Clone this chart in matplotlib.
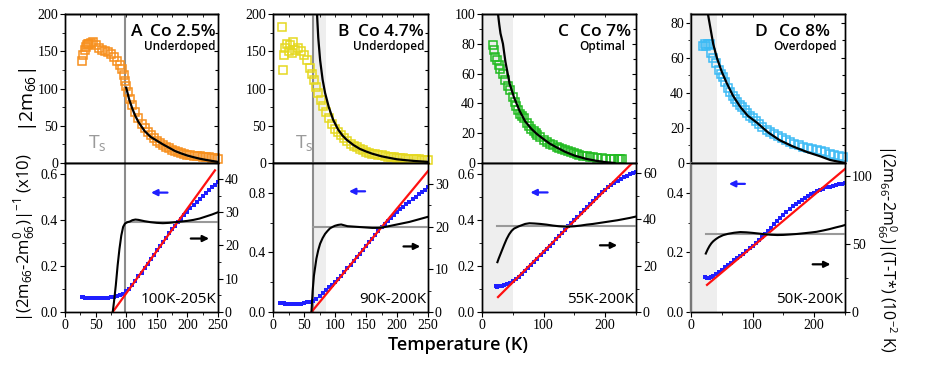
import matplotlib
matplotlib.use('Agg')
import matplotlib.pyplot as plt
from matplotlib.ticker import AutoMinorLocator, MultipleLocator

# ---------------- Panel A : Co 2.5% ----------------
a_T = [28, 30, 32, 34, 36, 38, 40, 43, 46, 50, 55, 60, 65, 70, 75, 80, 85, 90, 93, 96, 98, 100,
       103, 106, 110, 115, 120, 125, 130, 135, 140, 145, 150, 155, 160, 165, 170, 175, 180, 185,
       190, 195, 200, 205, 210, 215, 220, 225, 230, 235, 240, 245, 250]
a_m66 = [137, 145, 152, 156, 158, 160, 160, 161, 162, 158, 155, 152, 150, 149, 146, 142, 137,
         131, 126, 118, 110, 103, 95, 86, 78, 68, 60, 53, 47, 42, 37, 33, 30, 27, 24, 22, 20,
         18, 16, 14.5, 13, 12, 11, 10.5, 10, 9.5, 9, 8.5, 8, 7.5, 7, 6.5, 6]
a_fit_T = [100, 105, 110, 115, 120, 125, 130, 140, 150, 160, 170, 180, 190, 200, 210, 220, 230, 240, 250]
a_fit = [101, 85, 73, 63, 55, 49, 43, 35, 30, 25, 20.5, 16, 12.8, 10, 7.8, 5.8, 4.2, 2.8, 1.5]
a_inv_T = [28, 30, 33, 36, 40, 45, 50, 55, 60, 65, 70, 75, 80, 85, 90, 95, 100, 105, 110, 115,
           120, 125, 130, 135, 140, 145, 150, 155, 160, 165, 170, 175, 180, 185, 190, 195, 200,
           205, 210, 215, 220, 225, 230, 235, 240, 245, 250]
a_inv = [0.066, 0.064, 0.062, 0.061, 0.060, 0.060, 0.060, 0.061, 0.061, 0.062, 0.063, 0.064,
         0.066, 0.068, 0.073, 0.080, 0.090, 0.102, 0.117, 0.135, 0.155, 0.172, 0.190, 0.210,
         0.230, 0.250, 0.268, 0.287, 0.305, 0.324, 0.342, 0.360, 0.376, 0.392, 0.407, 0.422,
         0.437, 0.451, 0.466, 0.480, 0.494, 0.507, 0.519, 0.531, 0.543, 0.555, 0.566]
a_lin_T = [78, 245]
a_lin = [0.0, 0.617]
a_prod_T = [78, 80, 83, 86, 89, 92, 95, 98, 102, 106, 110, 115, 120, 125, 130, 140, 150, 160,
            170, 180, 190, 200, 210, 220, 230, 240, 250]
a_prod = [0, 3, 8, 14, 19, 23, 25.6, 26.6, 27, 27.2, 27.6, 27.8, 27.7, 27.5, 27.3, 27, 26.8,
          26.7, 26.8, 27, 27.2, 27.4, 27.7, 28.1, 28.7, 29.3, 30]
a_flat = 27.0

# ---------------- Panel B : Co 4.7% ----------------
b_T = [14, 16, 17, 20, 22, 25, 28, 30, 33, 36, 40, 45, 50, 55, 60, 63, 66, 70, 73, 77, 80, 85,
       90, 95, 100, 105, 110, 115, 120, 125, 130, 135, 140, 145, 150, 155, 160, 165, 170, 175,
       180, 185, 190, 195, 200, 205, 210, 215, 220, 225, 230, 235, 240, 245, 250]
b_m66 = [183, 125, 145, 155, 160, 150, 158, 148, 162, 152, 155, 150, 145, 138, 128, 120, 112,
         102, 94, 84, 77, 68, 60, 52, 46, 41, 37, 33, 29, 26, 23, 21, 19, 17, 15, 13.7, 12.5,
         11.7, 11, 10.2, 9.5, 8.7, 8, 7.5, 7, 6.7, 6.5, 6, 5.5, 5.2, 5, 4.7, 4.5, 4.2, 4]
b_fit_T = [71, 73, 76, 80, 84, 90, 97, 105, 112, 119, 130, 140, 150, 160, 175, 190, 200, 215, 230, 250]
b_fit = [200, 168, 138, 112, 94, 75, 58, 45, 37, 31, 24, 19, 15.5, 12.5, 9, 6.5, 5, 3.7, 2.6, 1.5]
b_inv_T = [12, 14, 17, 20, 25, 30, 35, 40, 45, 50, 55, 60, 65, 70, 75, 80, 85, 90, 95, 100,
           105, 110, 115, 120, 125, 130, 135, 140, 145, 150, 155, 160, 165, 170, 175, 180, 185,
           190, 195, 200, 205, 210, 215, 220, 225, 230, 235, 240, 245, 250]
b_inv = [0.062, 0.060, 0.058, 0.056, 0.054, 0.054, 0.054, 0.055, 0.057, 0.060, 0.064, 0.068,
         0.077, 0.090, 0.110, 0.130, 0.148, 0.165, 0.180, 0.198, 0.220, 0.243, 0.267, 0.292,
         0.317, 0.342, 0.367, 0.392, 0.418, 0.443, 0.468, 0.493, 0.518, 0.543, 0.568, 0.592,
         0.612, 0.632, 0.652, 0.670, 0.688, 0.705, 0.722, 0.740, 0.757, 0.773, 0.790, 0.806,
         0.822, 0.838]
b_lin_T = [62, 250]
b_lin = [0.0, 0.946]
b_prod_T = [62, 64, 66, 68, 70, 73, 76, 80, 84, 88, 92, 97, 100, 105, 110, 115, 120, 130, 140,
            150, 160, 170, 180, 190, 200, 210, 220, 230, 240, 250]
b_prod = [0, 5, 8.5, 10.5, 12.5, 14.5, 16, 17.3, 18.3, 19, 19.6, 20, 20.2, 20.4, 20.5, 20.3,
          20.1, 20, 19.9, 19.8, 19.7, 19.7, 19.9, 20.2, 20.5, 20.8, 21.1, 21.5, 21.9, 22.3]
b_flat = 20.0

# ---------------- Panel C : Co 7% ----------------
c_T = [18, 19, 21, 24, 27, 30, 34, 38, 42, 45, 50, 53, 56, 59, 62, 65, 68, 73, 77, 80, 84, 87,
       90, 94, 100, 105, 110, 115, 121, 125, 130, 135, 140, 145, 150, 154, 158, 164, 170, 175,
       180, 187, 195, 202, 210, 215, 220, 224, 228]
c_m66 = [79, 76, 71, 69, 66, 63, 60, 56, 52, 49, 44, 41, 38, 35.5, 33, 31.5, 30, 27, 25, 23,
         21.5, 20, 19, 17.7, 15.5, 14.2, 13, 12, 11, 10, 9.3, 8.5, 7.8, 7.1, 6.5, 6, 5.4, 5,
         4.5, 4.1, 3.8, 3.5, 3.1, 2.9, 2.8, 2.7, 2.6, 2.55, 2.5]
c_fit_T = [26, 28, 30, 34, 38, 45, 52, 61, 70, 80, 89, 100, 110, 121, 135, 150, 169, 185, 200, 215]
c_fit = [100, 93, 87, 80, 68, 53, 44, 35, 28, 23, 19.5, 16, 13, 10.5, 7.5, 5, 2.8, 1.5, 0.6, 0]
c_inv_T = [22, 25, 28, 32, 36, 40, 45, 50, 55, 60, 65, 70, 75, 80, 85, 90, 95, 100, 105, 110,
           115, 120, 125, 130, 135, 140, 145, 150, 155, 160, 165, 170, 175, 180, 185, 190, 195,
           200, 205, 210, 215, 220, 225, 230, 235, 240, 245, 250]
c_inv = [0.112, 0.110, 0.112, 0.115, 0.118, 0.122, 0.127, 0.134, 0.142, 0.152, 0.164, 0.177,
         0.190, 0.204, 0.218, 0.232, 0.246, 0.260, 0.274, 0.288, 0.302, 0.316, 0.330, 0.344,
         0.358, 0.373, 0.387, 0.401, 0.415, 0.429, 0.443, 0.457, 0.470, 0.483, 0.496, 0.508,
         0.520, 0.531, 0.542, 0.552, 0.561, 0.570, 0.578, 0.586, 0.593, 0.599, 0.604, 0.609]
c_lin_T = [26, 244]
c_lin = [0.065, 0.648]
c_prod_T = [25, 27, 30, 33, 36, 40, 44, 48, 52, 56, 60, 65, 70, 77, 85, 95, 105, 115, 125, 137,
            150, 160, 170, 180, 190, 200, 210, 220, 230, 240, 250]
c_prod = [21.5, 23, 25, 27, 29, 31.5, 33.5, 35, 36, 36.5, 37, 37.5, 38, 38.3, 38.2, 38, 37.7,
          37.3, 37, 36.8, 37, 37.3, 37.7, 38, 38.4, 38.8, 39.2, 39.6, 40.1, 40.6, 41.2]
c_flat = 37.3

# ---------------- Panel D : Co 8% ----------------
d_T = [20, 22, 25, 28, 31, 33, 36, 40, 45, 48, 52, 56, 60, 64, 68, 72, 75, 79, 82, 87, 91, 95,
       100, 105, 110, 116, 123, 129, 135, 141, 148, 154, 160, 167, 175, 182, 190, 197, 204, 211,
       218, 225, 232, 240, 247]
d_m66 = [67, 68, 67, 68, 68, 63, 60, 57, 53, 51, 49, 46, 43, 40.5, 38, 36.3, 35, 33.3, 32, 30,
         28.5, 27, 25.5, 24, 22.5, 20.8, 19, 17.7, 16.5, 15.2, 14, 13, 12, 11, 10, 9.3, 8.7, 8,
         7.4, 6.7, 6, 5.4, 4.8, 4.1, 3.4]
d_fit_T = [28, 32, 36, 42, 50, 58, 68, 80, 92, 107, 125, 144, 165, 188, 210, 226, 240, 250]
d_fit = [84, 76, 68, 60, 52, 45.6, 38.5, 32, 27, 23, 17.5, 13, 9.5, 6.3, 3.8, 1.7, 0.7, 0]
d_inv_T = [23, 26, 29, 32, 36, 40, 45, 50, 55, 60, 65, 70, 75, 80, 85, 90, 95, 100, 105, 110,
           115, 120, 125, 130, 135, 140, 145, 150, 155, 160, 165, 170, 175, 180, 185, 190, 195,
           200, 205, 210, 215, 220, 225, 230, 235, 240, 245, 250]
d_inv = [0.118, 0.115, 0.115, 0.117, 0.120, 0.126, 0.133, 0.142, 0.150, 0.158, 0.166, 0.173,
         0.180, 0.188, 0.196, 0.205, 0.214, 0.223, 0.232, 0.241, 0.251, 0.262, 0.272, 0.283,
         0.294, 0.305, 0.316, 0.327, 0.337, 0.346, 0.355, 0.363, 0.370, 0.377, 0.383, 0.389,
         0.395, 0.400, 0.405, 0.410, 0.414, 0.418, 0.421, 0.424, 0.427, 0.429, 0.431, 0.433]
d_lin_T = [26, 250]
d_lin = [0.091, 0.48]
d_prod_T = [24, 27, 30, 33, 36, 40, 45, 52, 60, 70, 80, 90, 100, 110, 120, 130, 140, 150, 160,
            172, 185, 195, 204, 215, 225, 235, 245, 250]
d_prod = [43, 46, 48.5, 50.5, 52, 53.5, 55, 56.5, 57.5, 58.3, 58.8, 58.6, 58.2, 57.7, 57.2,
          56.8, 56.6, 56.7, 57, 57.4, 58, 58.5, 59, 60, 61, 62.2, 63.3, 64]
d_flat = 57.4

letters = ['A', 'B', 'C', 'D']
dopings = ['Co 2.5%', 'Co 4.7%', 'Co 7%', 'Co 8%']
phases = ['Underdoped', 'Underdoped', 'Optimal', 'Overdoped']
ranges = ['100K-205K', '90K-200K', '55K-200K', '50K-200K']

SANS = 'Open Sans'
SERIF = 'Liberation Serif'
plt.rcParams['font.family'] = SERIF
plt.rcParams['font.size'] = 10
plt.rcParams['axes.linewidth'] = 1.0

W, H = 926.0, 371.0


def box(x0, y0, x1, y1):
    return [x0 / W, 1 - y1 / H, (x1 - x0) / W, (y1 - y0) / H]


panels = [
    dict(T=a_T, m=a_m66, fT=a_fit_T, f=a_fit, iT=a_inv_T, i=a_inv, lT=a_lin_T, l=a_lin,
         pT=a_prod_T, p=a_prod, flat=a_flat, color='#F7901E', x=(65, 218),
         top=(200, 50), bot=(0.649, 0.2), right=(44.8, 10), xstep=50,
         vline=98, span=None, flat_from=98, ts=(0.15, 0.06),
         letter_x=0.47, co_x=0.985, ph_x=0.985,
         blue_arrow=(136, 172, 0.52), black_arrow=(201, 240, 0.32)),
    dict(T=b_T, m=b_m66, fT=b_fit_T, f=b_fit, iT=b_inv_T, i=b_inv, lT=b_lin_T, l=b_lin,
         pT=b_prod_T, p=b_prod, flat=b_flat, color='#E5D820', x=(273, 428),
         top=(200, 50), bot=(1.0, 0.4), right=(34.9, 10), xstep=50,
         vline=65, span=(65, 85), flat_from=65, ts=(0.14, 0.06),
         letter_x=0.45, co_x=0.975, ph_x=0.975,
         blue_arrow=(118, 153, 0.81), black_arrow=(206, 242, 0.44)),
    dict(T=c_T, m=c_m66, fT=c_fit_T, f=c_fit, iT=c_inv_T, i=c_inv, lT=c_lin_T, l=c_lin,
         pT=c_prod_T, p=c_prod, flat=c_flat, color='#22BB22', x=(482, 636),
         top=(100, 20), bot=(0.648, 0.2), right=(64.3, 20), xstep=100,
         vline=None, span=(0, 50), flat_from=25, ts=None,
         letter_x=0.53, co_x=0.97, ph_x=0.93,
         blue_arrow=(74, 111, 0.52), black_arrow=(187, 224, 0.29)),
    dict(T=d_T, m=d_m66, fT=d_fit_T, f=d_fit, iT=d_inv_T, i=d_inv, lT=d_lin_T, l=d_lin,
         pT=d_prod_T, p=d_prod, flat=d_flat, color='#3DBBF5', x=(691, 845),
         top=(85, 20), bot=(0.5, 0.2), right=(109.6, 50), xstep=100,
         vline=None, span=(0, 42), flat_from=25, ts=None,
         letter_x=0.45, co_x=0.90, ph_x=0.95,
         blue_arrow=(57, 92, 0.43), black_arrow=(193, 231, 0.16)),
]

fig = plt.figure(figsize=(W / 100, H / 100), dpi=100)

for k, p in enumerate(panels):
    x0, x1 = p['x']
    ax_t = fig.add_axes(box(x0, 14, x1, 163))
    ax_b = fig.add_axes(box(x0, 163, x1, 312))
    for ax in (ax_t, ax_b):
        ax.set_xlim(0, 250)
        ax.xaxis.set_major_locator(MultipleLocator(p['xstep']))
        ax.xaxis.set_minor_locator(AutoMinorLocator(2))
        ax.yaxis.set_minor_locator(AutoMinorLocator(2))
        ax.tick_params(which='major', length=3.5, width=0.8, direction='out', pad=1.5)
        ax.tick_params(which='minor', length=2, width=0.6, direction='out')
        if p['span'] is not None:
            ax.axvspan(p['span'][0], p['span'][1], color='#EEEEEE', lw=0, zorder=0)
        if p['vline'] is not None:
            ax.axvline(p['vline'], color='#8C8C8C', lw=1.5, zorder=1)
    if k == 3:
        for ax in (ax_t, ax_b):
            ax.spines['left'].set_color('#777777')
            ax.spines['left'].set_linewidth(1.6)

    # ---- top: |2m66| ----
    ax_t.set_ylim(0, p['top'][0])
    ax_t.yaxis.set_major_locator(MultipleLocator(p['top'][1]))
    ax_t.tick_params(axis='x', which='both', labelbottom=False, bottom=False)
    if k == 1:
        ax_t.axhline(0, color='#999999', lw=1.2, zorder=1)
    ax_t.plot(p['T'], p['m'], 's', mfc='none', mec=p['color'], mew=1.1, ms=5.5, zorder=2,
              clip_on=False)
    ax_t.plot(p['fT'], p['f'], '-', color='black', lw=1.6, zorder=3)
    rt = ax_t.twinx()
    rt.set_ylim(ax_t.get_ylim())
    rt.yaxis.set_major_locator(MultipleLocator(p['top'][1]))
    rt.yaxis.set_minor_locator(AutoMinorLocator(2))
    rt.tick_params(which='both', direction='in', labelright=False, length=3, width=0.8)
    rt.tick_params(which='minor', length=2)
    tp = ax_t.secondary_xaxis('top')
    tp.xaxis.set_major_locator(MultipleLocator(p['xstep']))
    tp.xaxis.set_minor_locator(AutoMinorLocator(2))
    tp.tick_params(which='both', direction='in', labeltop=False, length=2.5, width=0.6)

    ax_t.text(p['letter_x'], 0.88, letters[k], transform=ax_t.transAxes, family=SANS,
              fontsize=12.5, weight='semibold', ha='center', va='center')
    ax_t.text(p['co_x'], 0.88, dopings[k], transform=ax_t.transAxes, family=SANS,
              fontsize=12.5, weight='semibold', ha='right', va='center')
    ax_t.text(p['ph_x'], 0.78, phases[k], transform=ax_t.transAxes, family=SANS,
              fontsize=8.5, weight='semibold', ha='right', va='center')
    if p['ts'] is not None:
        ax_t.text(p['ts'][0], p['ts'][1], r'T$_\mathregular{s}$', transform=ax_t.transAxes,
                  family=SANS, fontsize=14, color='#9A9A9A', ha='left', va='bottom')

    # ---- bottom: inverse and product ----
    ax_b.set_ylim(0, p['bot'][0])
    ax_b.yaxis.set_major_locator(MultipleLocator(p['bot'][1]))
    ax_b.yaxis.set_major_formatter(plt.FormatStrFormatter('%.1f'))
    ax_b.plot(p['iT'], p['i'], 's', color='#1F1FFF', ms=3.2, mew=0, zorder=3)
    ax_b.plot(p['lT'], p['l'], '-', color='#FF1010', lw=1.6, zorder=4)
    rb = ax_b.twinx()
    rb.set_ylim(0, p['right'][0])
    rb.yaxis.set_major_locator(MultipleLocator(p['right'][1]))
    rb.yaxis.set_minor_locator(AutoMinorLocator(2))
    rb.tick_params(which='major', direction='out', length=3.5, width=0.8, pad=1.5)
    rb.tick_params(which='minor', direction='out', length=2, width=0.6)
    rb.plot([p['flat_from'], 250], [p['flat'], p['flat']], '-', color='#999999', lw=1.5,
            zorder=1)
    rb.plot(p['pT'], p['p'], '-', color='black', lw=1.5, zorder=2)
    if k == 3:
        rb.spines['left'].set_color('#777777')
        rb.spines['left'].set_linewidth(1.6)

    x_a, x_b, y_a = p['blue_arrow']
    ax_b.annotate('', xy=(x_a, y_a), xytext=(x_b, y_a),
                  arrowprops=dict(arrowstyle='-|>', color='#1F1FFF', lw=1.6, mutation_scale=9))
    x_a, x_b, y_a = p['black_arrow']
    ax_b.annotate('', xy=(x_b, y_a), xytext=(x_a, y_a),
                  arrowprops=dict(arrowstyle='-|>', color='black', lw=1.6, mutation_scale=9))
    ax_b.text(0.99, 0.035, ranges[k], transform=ax_b.transAxes, family=SANS, fontsize=11,
              ha='right', va='bottom', zorder=6)

fig.text(28 / W, 1 - 100 / H, r'|2m$_\mathregular{66}$|', family=SANS, fontsize=14,
         rotation=90, ha='center', va='center')
fig.text(24 / W, 1 - 238 / H,
         r'|(2m$_\mathregular{66}$-2m$^\mathregular{0}_\mathregular{66}$)|$^\mathregular{-1}$ (x10)',
         family=SANS, fontsize=12, rotation=90, ha='center', va='center')
fig.text(887 / W, 1 - 248 / H,
         r'|(2m$_\mathregular{66}$-2m$^\mathregular{0}_\mathregular{66}$)|(T-T*) (10$^\mathregular{-2}$ K)',
         family=SANS, fontsize=11.5, rotation=270, ha='center', va='center')
fig.text(458 / W, 1 - 345 / H, 'Temperature (K)', family=SANS, fontsize=13,
         weight='semibold', ha='center', va='center')

fig.savefig('out.png', dpi=100)
